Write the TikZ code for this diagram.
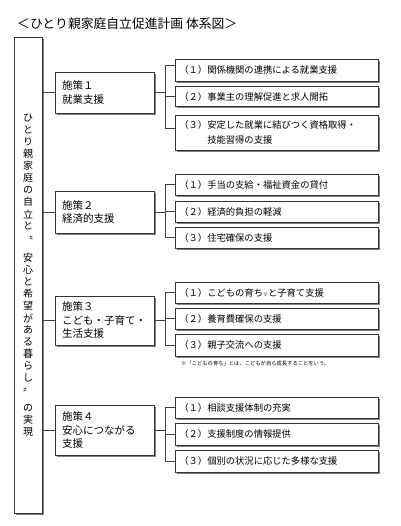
\documentclass[tikz,border=0pt]{standalone}
\usepackage{fontspec}
\setmainfont{Noto Sans CJK JP}
\usetikzlibrary{shadows,calc}
\begin{document}
\begin{tikzpicture}[x=1pt,y=-1pt,
  box/.style={draw=black!80, line width=0.7pt, fill=white,
    drop shadow={shadow xshift=1.6pt, shadow yshift=-1.6pt, fill=black!50, opacity=1}},
  sub/.style={box, text width=195pt, inner xsep=4pt, inner ysep=0pt, align=left,
    font=\fontsize{9.3}{15}\selectfont, anchor=west},
  pol/.style={box, text width=85pt, inner xsep=7pt, inner ysep=0pt, align=left,
    font=\fontsize{10.5}{13.5}\selectfont},
  link/.style={draw=black!75, line width=0.6pt},
  vch/.style={font=\fontsize{10}{10}\selectfont, inner sep=0pt}
]
\fill[white] (0,0) rectangle (400,526);
\useasboundingbox (0,0) rectangle (400,526);

% title
\node[anchor=west, inner sep=0pt, font=\fontsize{12.8}{13}\selectfont] (title) at (17,24) {＜ひとり親家庭自立促進計画 体系図＞};

% left tall box
\node[box, minimum width=28pt, minimum height=476pt, inner sep=0pt] (L) at (28,275) {};
\foreach \c/\y [count=\i] in {ひ/118,と/130,り/142,親/154,家/166,庭/178,の/190,自/202,立/214,と/226,〝/240,安/258,心/270,と/282,希/294,望/306,が/318,あ/330,る/342,暮/354,ら/366,し/378,〞/392,の/408,実/420,現/432}
  \node[vch] (v\i) at (28,\y) {\c};

% policy boxes
\node[pol, minimum height=41pt] (p1) at (104.5,92.5) {施策１\\就業支援};
\node[pol, minimum height=42pt] (p2) at (104.5,212) {施策２\\経済的支援};
\node[pol, minimum height=49pt] (p3) at (104.5,320.5) {施策３\\こども・子育て・\\生活支援};
\node[pol, minimum height=50pt] (p4) at (104.5,430) {施策４\\安心につながる\\支援};

% sub boxes
\node[sub, minimum height=22pt] (s11) at (175,70) {（１）関係機関の連携による就業支援};
\node[sub, minimum height=20pt] (s12) at (175,96.5) {（２）事業主の理解促進と求人開拓};
\node[sub, minimum height=35pt] (s13) at (175,132.5) {（３）安定した就業に結びつく資格取得・\\\hspace*{3em}技能習得の支援};

\node[sub, minimum height=21pt] (s21) at (175,184.5) {（１）手当の支給・福祉資金の貸付};
\node[sub, minimum height=21pt] (s22) at (175,211.5) {（２）経済的負担の軽減};
\node[sub, minimum height=21pt] (s23) at (175,237.5) {（３）住宅確保の支援};

\node[sub, minimum height=21pt] (s31) at (175,292.5) {（１）こどもの育ち{\fontsize{5}{5}\selectfont ※}と子育て支援};
\node[sub, minimum height=21pt] (s32) at (175,318.5) {（２）養育費確保の支援};
\node[sub, minimum height=22pt] (s33) at (175,345) {（３）親子交流への支援};
\node[anchor=west, inner sep=0pt, font=\fontsize{5.3}{6}\selectfont] (fn) at (181,363) {※「こどもの育ち」とは、こどもが自ら成長することをいう。};

\node[sub, minimum height=21pt] (s41) at (175,407.5) {（１）相談支援体制の充実};
\node[sub, minimum height=22pt] (s42) at (175,434) {（２）支援制度の情報提供};
\node[sub, minimum height=22pt] (s43) at (175,461) {（３）個別の状況に応じた多様な支援};

% connectors
\coordinate (k) at (165,0);
\foreach \g in {1,2,3,4}{
  \draw[link] (L.east |- p\g) -- (p\g.west);
  \draw[link] (p\g.east) -- (p\g.east -| k);
}
\coordinate (t11) at ([yshift=5pt]s11.west);
\coordinate (t13) at ([yshift=4.5pt]s13.west);
\draw[link] (s12.west) -- (s12.west -| k);
\draw[link] (t11) -- (t11 -| k) -- (t13 -| k) -- (t13);
\foreach \g in {2,3,4}{
  \draw[link] (s\g1.west) -- (s\g1.west -| k) -- (s\g3.west -| k) -- (s\g3.west);
  \draw[link] (s\g2.west) -- (s\g2.west -| k);
}
\end{tikzpicture}
\end{document}
